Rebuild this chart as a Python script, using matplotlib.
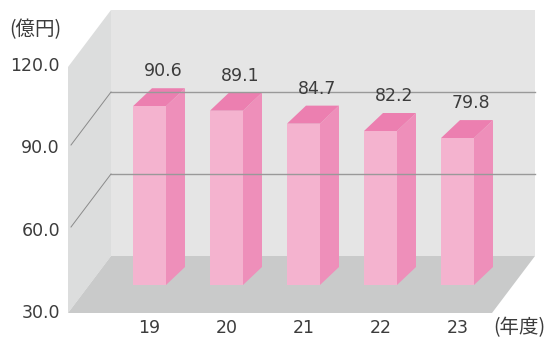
import matplotlib.pyplot as plt
from matplotlib.patches import Polygon

plt.rcParams['font.family'] = ['DejaVu Sans', 'Noto Sans CJK JP']

years = ['19', '20', '21', '22', '23']
sales = [90.6, 89.1, 84.7, 82.2, 79.8]
y_ticks = [30.0, 60.0, 90.0, 120.0]
unit_label = '(億円)'
x_unit_label = '(年度)'

# pseudo-3D box geometry, in pixels
left, right_front, floor_y = 68, 492, 313
depth_dx, depth_dy = 43, -57
back_top = 10
grid_scale = (floor_y + depth_dy - back_top) / 90.0
front_scale = (floor_y - 66) / 90.0

bar_x0, bar_step, bar_w = 133, 77, 33
bar_base, bar_scale = 285, 2.95
bar_dx, bar_dy = 19, -18

c_back = '#e5e5e5'
c_side_wall = '#dcdddd'
c_floor = '#c9caca'
c_front = '#f4b3cf'
c_side = '#ee8fba'
c_top = '#ec7fb0'
c_text = '#3c3c3c'
num_font = dict(fontsize=12.5, color=c_text)
jp_font = dict(fontsize=14, color=c_text, family=['Noto Sans CJK JP'])

fig = plt.figure(figsize=(5.48, 3.37), dpi=100)
ax = fig.add_axes([0, 0, 1, 1])
ax.set_xlim(0, 548)
ax.set_ylim(337, 0)
ax.axis('off')

bl, bb = left + depth_dx, floor_y + depth_dy
br = right_front + depth_dx
ax.add_patch(Polygon([(bl, back_top), (br, back_top), (br, bb), (bl, bb)],
                     closed=True, fc=c_back, ec='none'))
ax.add_patch(Polygon([(left, floor_y), (left, back_top - depth_dy), (bl, back_top), (bl, bb)],
                     closed=True, fc=c_side_wall, ec='none'))
ax.add_patch(Polygon([(left, floor_y), (bl, bb), (br, bb), (right_front, floor_y)],
                     closed=True, fc=c_floor, ec='none'))

# gridlines on back wall and left wall
for v in y_ticks[1:3]:
    gy = bb - (v - 30) * grid_scale
    ax.plot([bl, br], [gy, gy], color='#999999', lw=1.0)
    ax.plot([left + 3, bl], [gy - depth_dy - 4, gy], color='#8a8a8a', lw=0.7)

for v in y_ticks:
    ty = floor_y - (v - 30) * front_scale
    ax.text(60, ty, f'{v:.1f}', ha='right', va='center', **num_font)

ax.text(35, 30, unit_label, ha='center', va='center', **jp_font)

for i, (yr, v) in enumerate(zip(years, sales)):
    x0 = bar_x0 + i * bar_step
    x1 = x0 + bar_w
    top = bar_base - (v - 30) * bar_scale
    ax.add_patch(Polygon([(x1, bar_base), (x1 + bar_dx, bar_base + bar_dy),
                          (x1 + bar_dx, top + bar_dy), (x1, top)],
                         closed=True, fc=c_side, ec='none'))
    ax.add_patch(Polygon([(x0, top), (x0 + bar_dx, top + bar_dy),
                          (x1 + bar_dx, top + bar_dy), (x1, top)],
                         closed=True, fc=c_top, ec='none'))
    ax.add_patch(Polygon([(x0, bar_base), (x0, top), (x1, top), (x1, bar_base)],
                         closed=True, fc=c_front, ec='none'))
    ax.text(x0 + 30, top + bar_dy - 8, f'{v:.1f}', ha='center', va='bottom', **num_font)
    ax.text(x0 + bar_w / 2, 328, yr, ha='center', va='center', **num_font)

ax.text(519, 328, x_unit_label, ha='center', va='center', **jp_font)

fig.savefig('out.png', dpi=100)
